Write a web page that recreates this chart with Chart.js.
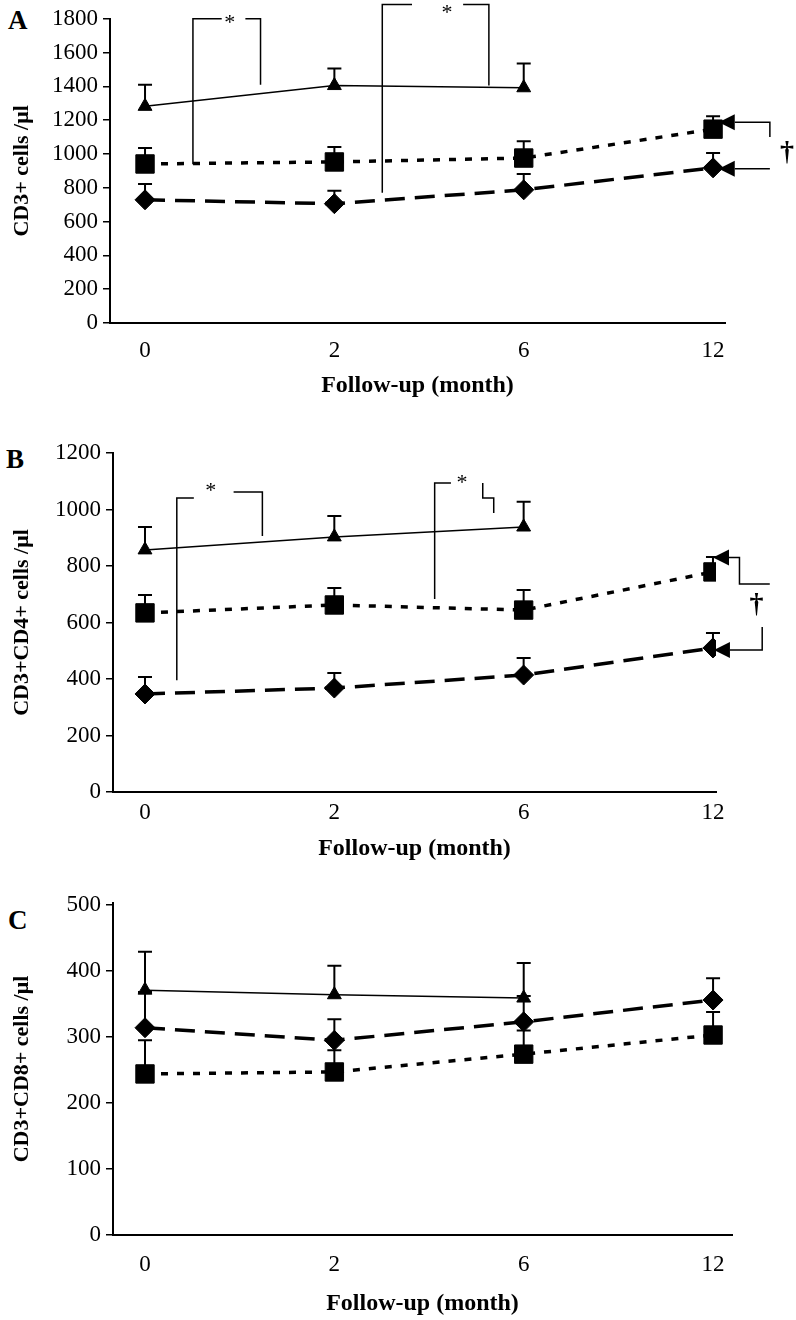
<!DOCTYPE html>
<html>
<head>
<meta charset="utf-8">
<script src="https://cdn.jsdelivr.net/npm/chart.js@4.4.1/dist/chart.umd.min.js"></script>
<style>
  body { margin: 0; background: #fff; width: 796px; height: 1320px; position: relative; overflow: hidden; }
  canvas { position: absolute; left: 0; }
  .letter { position: absolute; font: bold 27px 'Liberation Serif', 'Times New Roman', serif; color: #000; line-height: 1; }
</style>
</head>
<body>
<div class="letter" style="left:8px;top:7px">A</div>
<div class="letter" style="left:6px;top:446px">B</div>
<div class="letter" style="left:8px;top:907px">C</div>
<canvas id="panelA" width="796" height="400" style="top:0"></canvas>
<canvas id="panelB" width="796" height="450" style="top:420px"></canvas>
<canvas id="panelC" width="796" height="450" style="top:870px"></canvas>
<script>
const SERIF = "'Liberation Serif', 'Times New Roman', serif";
const months = ['0', '2', '6', '12'];
const ticksA = [0, 200, 400, 600, 800, 1000, 1200, 1400, 1600, 1800];
const ticksB = [0, 200, 400, 600, 800, 1000, 1200];
const ticksC = [0, 100, 200, 300, 400, 500];

// A - CD3+ cells /ul (mean, upper error bar)
const cd3Tri = [1282, 1405, 1392, null];
const cd3TriErr = [1410, 1506, 1535, null];
const cd3Sq = [941, 953, 976, 1147];
const cd3SqErr = [1035, 1041, 1076, 1224];
const cd3Dia = [729, 706, 788, 918];
const cd3DiaErr = [823, 782, 882, 1006];

// B - CD3+CD4+ cells /ul
const cd4Tri = [857, 903, 938, null];
const cd4TriErr = [938, 977, 1027, null];
const cd4Sq = [634, 662, 644, 779];
const cd4SqErr = [697, 722, 715, 832];
const cd4Dia = [347, 368, 414, 510];
const cd4DiaErr = [407, 421, 474, 563];

// C - CD3+CD8+ cells /ul
const cd8Tri = [371, 364, 359, null];
const cd8TriErr = [429, 408, 412, null];
const cd8Sq = [244, 247, 274, 303];
const cd8SqErr = [295, 280, 310, 338];
const cd8Dia = [314, 295, 323, 356];
const cd8DiaErr = [368, 327, 362, 389];

// significance brackets (x in follow-up index units, y in cells/ul)
const bracketsA = [
    { pts: [[0.405, 1800], [0.253, 1800], [0.253, 940]] },
    { pts: [[0.53, 1800], [0.61, 1800], [0.61, 1410]] },
    { pts: [[1.41, 1885], [1.253, 1885], [1.253, 770]] },
    { pts: [[1.68, 1885], [1.816, 1885], [1.816, 1405]] },
    { pts: [[3.03, 1188], [3.30, 1188], [3.30, 1100]], arrow: true },
    { pts: [[3.03, 912], [3.30, 912]], arrow: true }
];
const textsA = [
    { x: 0.447, y: 1775, text: '*', size: 22 },
    { x: 1.595, y: 1835, text: '*', size: 22 },
    { x: 3.39, y: 1010, text: '†', size: 28, bold: true }
];
const bracketsB = [
    { pts: [[0.258, 1041], [0.168, 1041], [0.168, 396]] },
    { pts: [[0.468, 1062], [0.62, 1062], [0.62, 906]] },
    { pts: [[1.616, 1094], [1.53, 1094], [1.53, 683]] },
    { pts: [[1.784, 1094], [1.784, 1041], [1.842, 1041], [1.842, 988]] },
    { pts: [[3.0, 830], [3.14, 830], [3.14, 736], [3.30, 736]], arrow: true },
    { pts: [[3.005, 503], [3.26, 503], [3.26, 584]], arrow: true }
];
const textsB = [
    { x: 0.347, y: 1066, text: '*', size: 22 },
    { x: 1.674, y: 1094, text: '*', size: 22 },
    { x: 3.23, y: 662, text: '†', size: 28, bold: true }
];

const errorBars = {
    id: 'errorBars',
    afterDatasetsDraw(chart) {
        const { ctx, scales: { x, y } } = chart;
        ctx.save();
        ctx.strokeStyle = '#000';
        ctx.lineWidth = 2;
        chart.data.datasets.forEach(ds => {
            ds.data.forEach((p, i) => {
                const hi = ds.errHi[i];
                if (p.y == null || hi == null) return;
                const px = x.getPixelForValue(p.x);
                const y0 = y.getPixelForValue(p.y);
                const y1 = y.getPixelForValue(hi);
                ctx.beginPath();
                ctx.moveTo(px, y0);
                ctx.lineTo(px, y1);
                ctx.moveTo(px - 7, y1);
                ctx.lineTo(px + 7, y1);
                ctx.stroke();
            });
        });
        ctx.restore();
    }
};

function marksPlugin(brackets, texts) {
    return {
        id: 'marks',
        afterDraw(chart) {
            const { ctx, scales: { x, y } } = chart;
            ctx.save();
            ctx.strokeStyle = '#000';
            ctx.fillStyle = '#000';
            ctx.lineWidth = 1.5;
            brackets.forEach(b => {
                const pts = b.pts.map(p => [x.getPixelForValue(p[0]), y.getPixelForValue(p[1])]);
                let start = pts[0];
                if (b.arrow) {
                    // arrowhead at the first point, pointing away from the second
                    const [x0, y0] = pts[0];
                    const [x1, y1] = pts[1];
                    const a = Math.atan2(y0 - y1, x0 - x1);
                    const len = 16, half = 8;
                    const bx = x0 - Math.cos(a) * len, by = y0 - Math.sin(a) * len;
                    ctx.beginPath();
                    ctx.moveTo(x0, y0);
                    ctx.lineTo(bx - Math.sin(a) * half, by + Math.cos(a) * half);
                    ctx.lineTo(bx + Math.sin(a) * half, by - Math.cos(a) * half);
                    ctx.closePath();
                    ctx.fill();
                    start = [bx, by];
                }
                ctx.beginPath();
                ctx.moveTo(start[0], start[1]);
                pts.slice(1).forEach(p => ctx.lineTo(p[0], p[1]));
                ctx.stroke();
            });
            ctx.textAlign = 'center';
            ctx.textBaseline = 'middle';
            texts.forEach(t => {
                ctx.font = (t.bold ? 'bold ' : '') + t.size + 'px ' + SERIF;
                ctx.fillText(t.text, x.getPixelForValue(t.x), y.getPixelForValue(t.y));
            });
            ctx.restore();
        }
    };
}

function series(vals, err, style) {
    return Object.assign({
        data: vals.map((v, i) => ({ x: i, y: v })),
        errHi: err,
        borderColor: '#000',
        backgroundColor: '#000',
        pointBorderColor: '#000',
        pointBackgroundColor: '#000',
        pointBorderWidth: 1,
        fill: false,
        tension: 0
    }, style);
}

const triStyle = { borderWidth: 1.5, pointStyle: 'triangle', pointRadius: 8 };
const sqStyle = { borderWidth: 3.5, borderDash: [7, 9], pointStyle: 'rect', pointRadius: 13 };
const diaStyle = { borderWidth: 3.5, borderDash: [20, 10], pointStyle: 'rectRot', pointRadius: 10 };

function makePanel(id, cfg) {
    const canvas = document.getElementById(id);
    const W = canvas.width, H = canvas.height;
    return new Chart(canvas.getContext('2d'), {
        type: 'line',
        data: {
            datasets: [
                series(cfg.tri, cfg.triErr, triStyle),
                series(cfg.sq, cfg.sqErr, sqStyle),
                series(cfg.dia, cfg.diaErr, diaStyle)
            ]
        },
        options: {
            responsive: false,
            animation: false,
            events: [],
            layout: { padding: { top: cfg.top, right: W - cfg.right, left: 0, bottom: 0 } },
            plugins: { legend: { display: false }, tooltip: { enabled: false } },
            scales: {
                x: {
                    type: 'linear',
                    min: cfg.xmin,
                    max: cfg.xmax,
                    afterBuildTicks: s => { s.ticks = months.map((m, i) => ({ value: i })); },
                    afterFit: s => { s.height = H - cfg.bottom; },
                    ticks: {
                        callback: v => months[v],
                        color: '#000',
                        font: { family: SERIF, size: 23 },
                        padding: cfg.labelPad,
                        autoSkip: false,
                        maxRotation: 0
                    },
                    grid: { display: false, drawTicks: false },
                    border: { display: true, color: '#000', width: 2 },
                    title: {
                        display: true,
                        text: 'Follow-up (month)',
                        color: '#000',
                        font: { family: SERIF, size: 24, weight: 'bold' },
                        padding: { top: 0, bottom: cfg.titlePad }
                    }
                },
                y: {
                    min: 0,
                    max: cfg.ymax,
                    afterBuildTicks: s => { s.ticks = cfg.yticks.map(v => ({ value: v })); },
                    afterFit: s => { s.width = cfg.left; },
                    ticks: {
                        callback: v => String(v),
                        color: '#000',
                        font: { family: SERIF, size: 23 },
                        padding: 5,
                        autoSkip: false
                    },
                    grid: { drawOnChartArea: false, tickLength: 7, color: '#000', lineWidth: 1.5 },
                    border: { display: true, color: '#000', width: 2 },
                    title: {
                        display: true,
                        text: cfg.ytitle,
                        color: '#000',
                        font: { family: SERIF, size: 22, weight: 'bold' },
                        padding: { top: 9, bottom: 0 }
                    }
                }
            }
        },
        plugins: [errorBars, marksPlugin(cfg.brackets, cfg.texts)]
    });
}

makePanel('panelA', {
    tri: cd3Tri, triErr: cd3TriErr, sq: cd3Sq, sqErr: cd3SqErr, dia: cd3Dia, diaErr: cd3DiaErr,
    ytitle: 'CD3+ cells /μl', ymax: 1800, yticks: ticksA,
    top: 16, bottom: 323, left: 110, right: 725, xmin: -0.185, xmax: 3.063,
    labelPad: 14, titlePad: 0,
    brackets: bracketsA, texts: textsA
});

makePanel('panelB', {
    tri: cd4Tri, triErr: cd4TriErr, sq: cd4Sq, sqErr: cd4SqErr, dia: cd4Dia, diaErr: cd4DiaErr,
    ytitle: 'CD3+CD4+ cells /μl', ymax: 1200, yticks: ticksB,
    top: 33, bottom: 372, left: 113, right: 716, xmin: -0.169, xmax: 3.016,
    labelPad: 7, titlePad: 7,
    brackets: bracketsB, texts: textsB
});

makePanel('panelC', {
    tri: cd8Tri, triErr: cd8TriErr, sq: cd8Sq, sqErr: cd8SqErr, dia: cd8Dia, diaErr: cd8DiaErr,
    ytitle: 'CD3+CD8+ cells /μl', ymax: 503, yticks: ticksC,
    top: 33, bottom: 365, left: 113, right: 732, xmin: -0.169, xmax: 3.10,
    labelPad: 16, titlePad: 2,
    brackets: [], texts: []
});
</script>
</body>
</html>
